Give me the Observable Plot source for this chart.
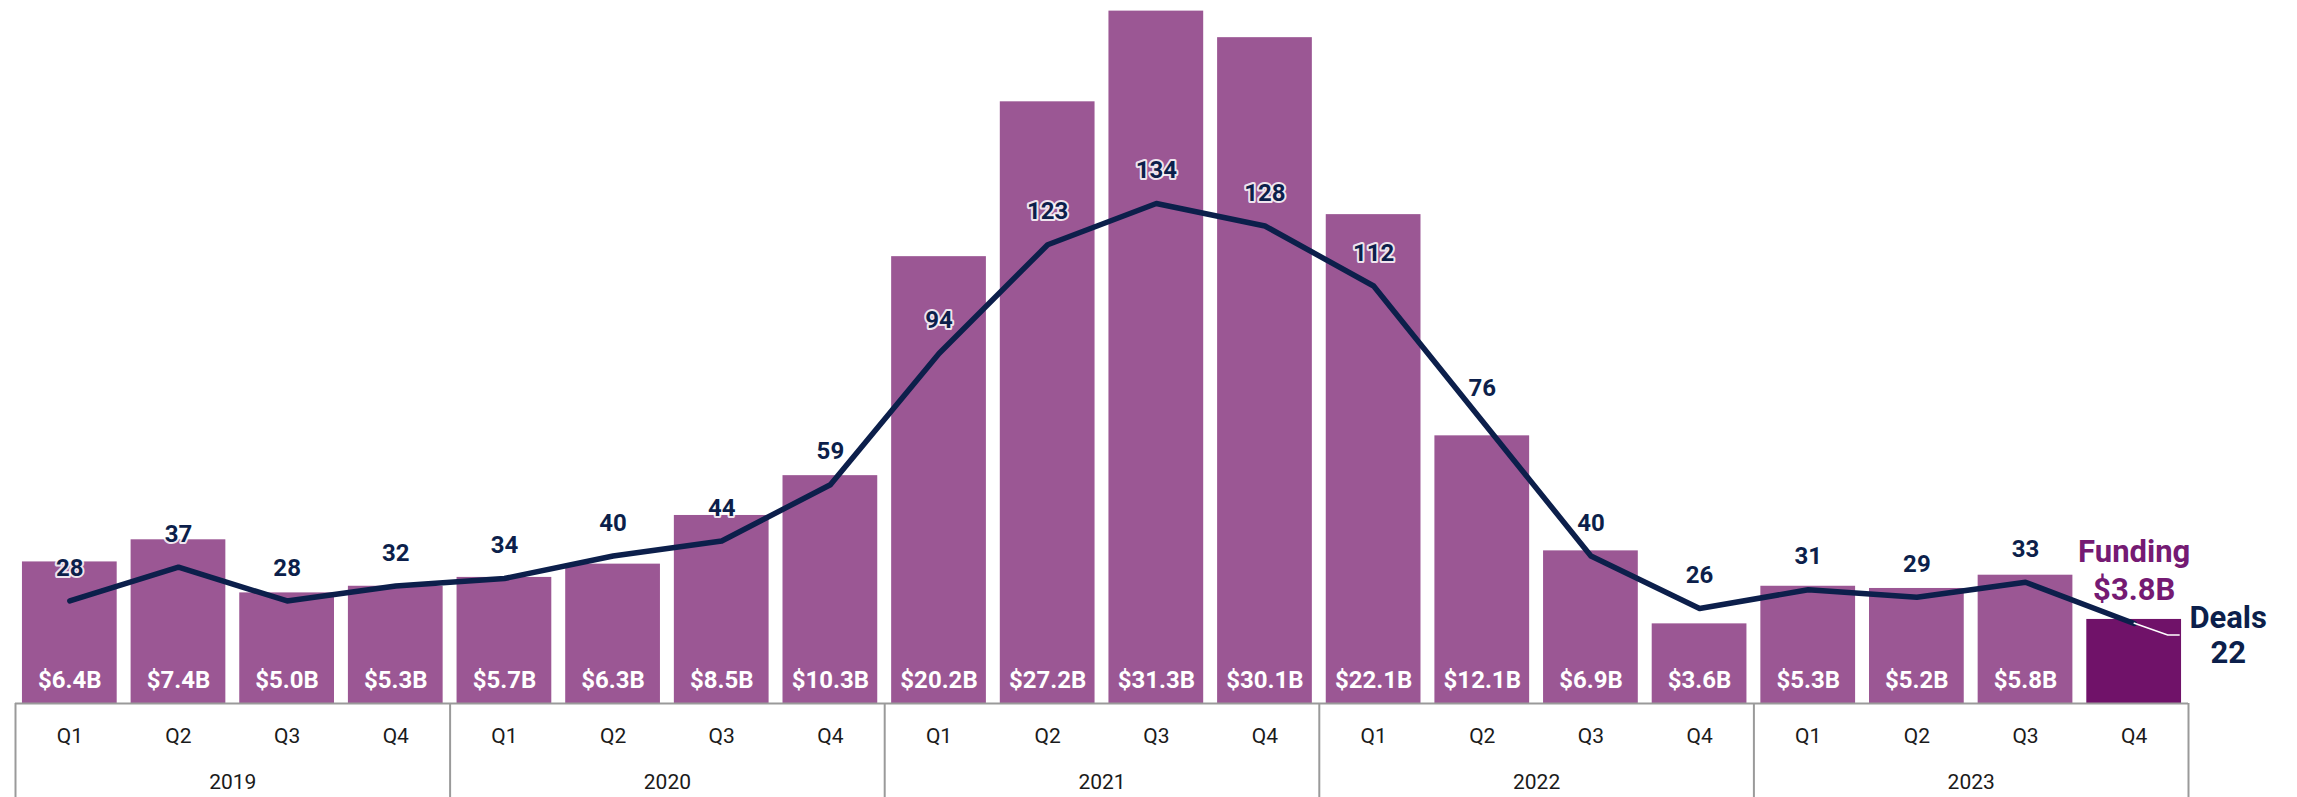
<!DOCTYPE html>
<html>
<head>
<meta charset="utf-8">
<script src="https://cdn.jsdelivr.net/npm/d3@7"></script>
<script src="https://cdn.jsdelivr.net/npm/@observablehq/plot@0.6"></script>
<style>
  html, body { margin: 0; padding: 0; background: #fff; }
  #chart svg { display: block; }
</style>
</head>
<body>
<div id="chart"></div>
<script>
// ---- data ----
const years = ["2019", "2020", "2021", "2022", "2023"];
const quarters = ["Q1", "Q2", "Q3", "Q4"];
const fundingB = [6.4, 7.4, 5.0, 5.3, 5.7, 6.3, 8.5, 10.3, 20.2, 27.2, 31.3, 30.1, 22.1, 12.1, 6.9, 3.6, 5.3, 5.2, 5.8, 3.8];
const deals = [28, 37, 28, 32, 34, 40, 44, 59, 94, 123, 134, 128, 112, 76, 40, 26, 31, 29, 33, 22];

// ---- styles ----
const BAR = "#9b5794", BAR_LAST = "#701269", NAVY = "#0c1f4b", FUND_TXT = "#751a73", GRID = "#9a9a9a";
const W = 2297, H = 797;
const Y_MAX = 31.78;                 // funding at top of frame
const DEAL_ZERO = 2.5 / 22.12;       // deals axis offset (in funding units)
const DEAL_K = 3.75 / 22.12;         // one deal in funding units
const dealY = d => d.deals * DEAL_K - DEAL_ZERO;

const data = fundingB.map((f, i) => ({
  i, funding: f, deals: deals[i],
  q: quarters[i % 4], year: years[Math.floor(i / 4)],
  last: i === fundingB.length - 1
}));
const body = data.filter(d => !d.last);
const last = data.filter(d => d.last);
const yearMid = years.map((y, k) => ({year: y, x: k * 4 + 1.5}));
const seps = d3.range(years.length + 1).map(k => k * 4 - 0.5);
const HALF = 0.436;

const plot = Plot.plot({
  width: W, height: H,
  marginLeft: 15, marginRight: 109, marginTop: 0, marginBottom: 94,
  style: {fontFamily: "Roboto, sans-serif", background: "#fff", overflow: "visible"},
  x: {domain: [-0.5, 19.5], axis: null},
  y: {domain: [0, Y_MAX], axis: null},
  marks: [
    Plot.rectY(data, {x1: d => d.i - HALF, x2: d => d.i + HALF, y: "funding", fill: d => d.last ? BAR_LAST : BAR}),
    Plot.ruleY([0], {stroke: GRID, strokeWidth: 2}),
    Plot.ruleX(seps, {x: d => d, y1: 0, y2: 0, insetBottom: -110, stroke: GRID, strokeWidth: 2}),
    Plot.line(data, {x: "i", y: dealY, stroke: NAVY, strokeWidth: 5.5, strokeLinejoin: "round"}),
    // funding labels in bars
    Plot.text(body, {x: "i", y: 0, dy: -23, text: d => `$${d.funding.toFixed(1)}B`, fill: "#fff", fontSize: 24, fontWeight: "bold"}),
    // deal labels
    Plot.text(body, {x: "i", y: dealY, dy: -33, text: d => String(d.deals), fill: NAVY, fontSize: 24, fontWeight: "bold",
      stroke: "#fff", strokeWidth: 4, strokeOpacity: 0.85}),
    // quarter & year labels
    Plot.text(data, {x: "i", y: 0, dy: 33, text: "q", fill: "#1a1a1a", fontSize: 21}),
    Plot.text(yearMid, {x: "x", y: 0, dy: 79, text: "year", fill: "#1a1a1a", fontSize: 21}),
    // last-quarter annotations
    Plot.text(last, {x: "i", y: "funding", dy: -67, text: () => "Funding", fill: FUND_TXT, fontSize: 31, fontWeight: "bold"}),
    Plot.text(last, {x: "i", y: "funding", dy: -29, text: d => `$${d.funding.toFixed(1)}B`, fill: FUND_TXT, fontSize: 31, fontWeight: "bold"}),
    Plot.text(last, {x: "i", y: dealY, dx: 94, dy: -5, text: () => "Deals", fill: NAVY, fontSize: 31, fontWeight: "bold"}),
    Plot.text(last, {x: "i", y: dealY, dx: 94, dy: 30, text: d => String(d.deals), fill: NAVY, fontSize: 31, fontWeight: "bold"}),
    // leader line to the Deals label
    Plot.dot(last, {x: "i", y: dealY, r: 0, render: (index, scales, values) => {
      const g = d3.create("svg:g");
      for (const k of index) {
        const x0 = values.x[k], y0 = values.y[k];
        g.append("path").attr("d", `M${x0},${y0}L${x0 + 34},${y0 + 12}H${x0 + 46}`)
          .attr("fill", "none").attr("stroke", "#fff").attr("stroke-width", 1.6);
      }
      return g.node();
    }})
  ]
});
document.getElementById("chart").append(plot);
</script>
</body>
</html>
